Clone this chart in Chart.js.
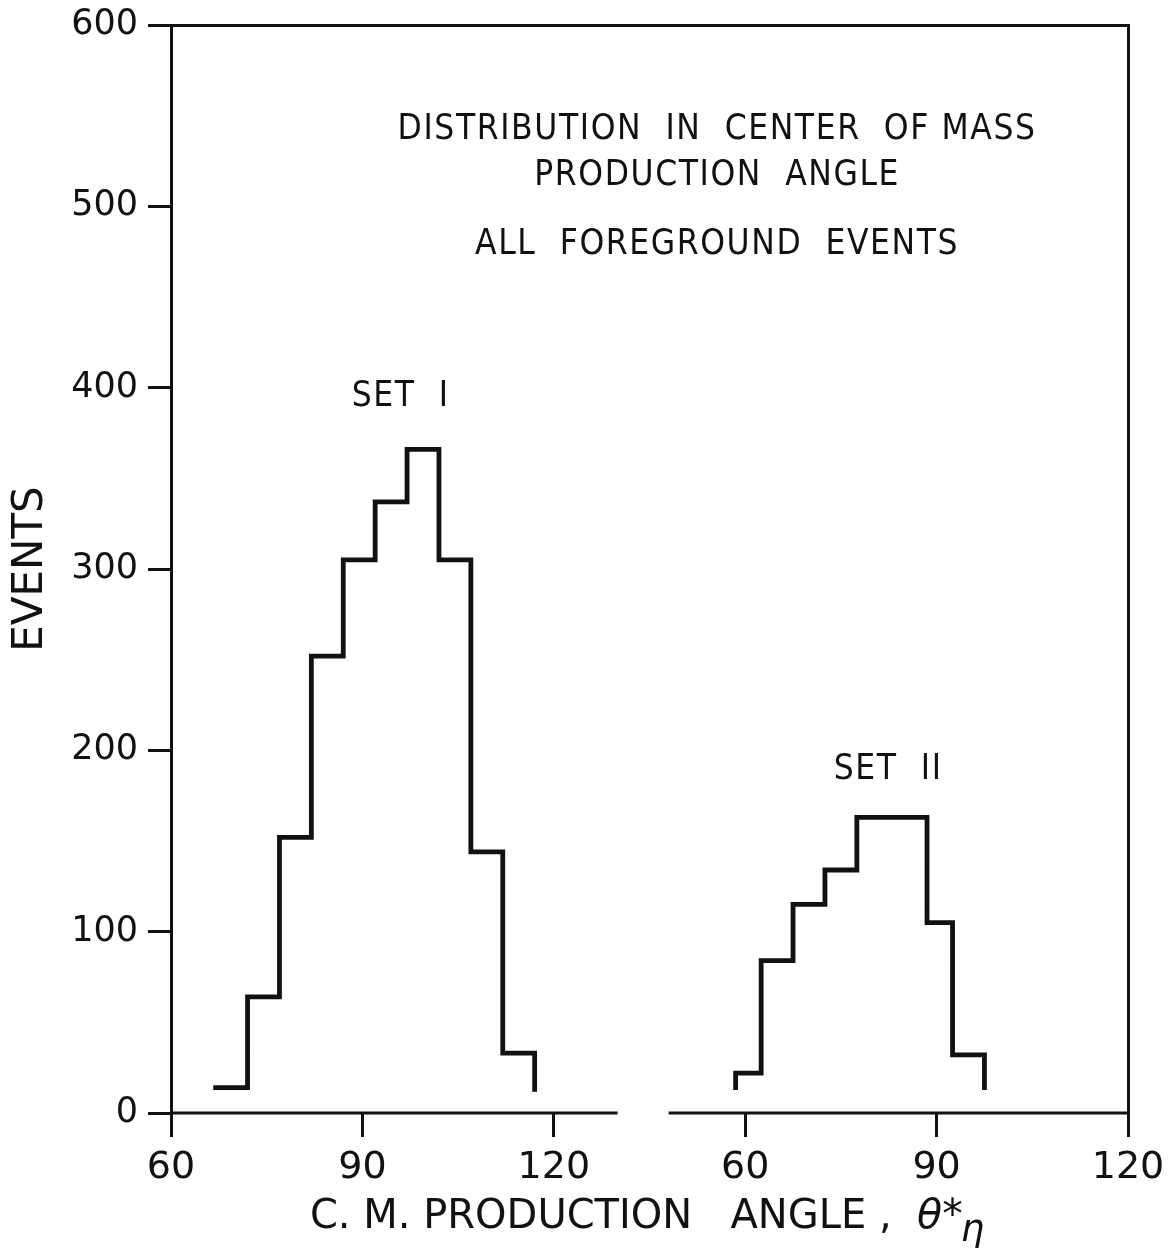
<!DOCTYPE html>
<html>
<head>
<meta charset="utf-8">
<title>Distribution in center of mass production angle</title>
<script src="https://cdn.jsdelivr.net/npm/chart.js@4/dist/chart.umd.min.js"></script>
<style>
  html, body { margin: 0; padding: 0; background: #fff; }
  #wrap { position: relative; width: 1168px; height: 1248px; }
</style>
</head>
<body>
<div id="wrap"><canvas id="chart" width="1168" height="1248"></canvas></div>
<script>
// ---- Histogram data: bin edges (degrees) and event counts per bin ----
const setOneEdges  = [67, 72, 77, 82, 87, 92, 97, 102, 107, 112, 117];
const setOneCounts = [14, 64, 152, 252, 305, 337, 366, 305, 144, 33];
const setOneEndLevel = 13;

const setTwoEdges  = [58.5, 62.5, 67.5, 72.5, 77.5, 88.5, 92.5, 97.5];
const setTwoCounts = [22, 84, 115, 134, 163, 105, 32];
const setTwoStartLevel = 14;
const setTwoEndLevel = 14;

// ---- Axis ticks ----
const angleTicks = [60, 90, 120];
const eventTicks = [0, 100, 200, 300, 400, 500, 600];

// ---- Text ----
const titleLines = ['DISTRIBUTION  IN  CENTER  OF MASS', 'PRODUCTION  ANGLE', 'ALL  FOREGROUND  EVENTS'];
const setLabels = ['SET  I', 'SET  II'];
const xTitleMain = 'C. M. PRODUCTION   ANGLE ,  ';
const xTitleSymbol = 'θ*';
const xTitleSub = 'η';
const yTitle = 'EVENTS';

// Both panels share one linear angle axis; the second panel is shifted by this many degrees.
const panelOffset = 90;
const leftPanelAxis = [60, 130];
const rightPanelAxis = [48, 120];

const ink = '#111';
const tickFont = '"DejaVu Sans", "Liberation Sans", sans-serif';
const letterFont = '"DejaVu Sans Condensed", "Liberation Sans Narrow", "DejaVu Sans", sans-serif';

function stepPoints(edges, counts, startLevel, endLevel, shift) {
  const pts = [];
  if (startLevel !== null) pts.push({ x: edges[0] + shift, y: startLevel });
  counts.forEach((c, i) => pts.push({ x: edges[i] + shift, y: c }));
  pts.push({ x: edges[edges.length - 1] + shift, y: endLevel });
  return pts;
}

function axisSegment(range, shift) {
  return [{ x: range[0] + shift, y: 0 }, { x: range[1] + shift, y: 0 }];
}

const lineStyle = (width) => ({
  borderColor: ink, borderWidth: width, pointRadius: 0, pointHoverRadius: 0,
  fill: false, tension: 0, clip: false, borderCapStyle: 'square', borderJoinStyle: 'miter'
});

// Keep the plot frame fixed: tick labels may overhang the frame edges.
const noOverhang = s => { s.paddingLeft = 0; s.paddingRight = 0; s.paddingTop = 0; s.paddingBottom = 0; };

// Titles, panel labels and axis titles
const figureText = {
  id: 'figureText',
  afterDraw(chart) {
    const { ctx, scales: { x, y } } = chart;
    ctx.save();
    ctx.fillStyle = ink;
    ctx.textBaseline = 'middle';
    ctx.textAlign = 'center';

    ctx.font = '35px ' + letterFont;
    ctx.letterSpacing = '1.6px';
    const titleX = x.getPixelForValue(145.6);
    const titleY = [542, 517, 478.5];
    titleLines.forEach((t, i) => ctx.fillText(t, titleX, y.getPixelForValue(titleY[i])));

    ctx.fillText(setLabels[0], x.getPixelForValue(96), y.getPixelForValue(395));
    ctx.fillText(setLabels[1], x.getPixelForValue(82.4 + panelOffset), y.getPixelForValue(189));
    ctx.letterSpacing = '0px';

    // y axis title
    ctx.save();
    ctx.font = '42px ' + tickFont;
    ctx.translate(31, 569);
    ctx.rotate(-Math.PI / 2);
    ctx.fillText(yTitle, 0, 0);
    ctx.restore();

    // x axis title with subscript
    ctx.textAlign = 'left';
    ctx.textBaseline = 'alphabetic';
    const mainFont = '40px ' + tickFont;
    const symFont = 'italic 41px ' + tickFont;
    const subFont = 'italic 37px ' + tickFont;
    ctx.font = mainFont; const w1 = ctx.measureText(xTitleMain).width;
    ctx.font = symFont; const w2 = ctx.measureText(xTitleSymbol).width;
    ctx.font = subFont; const w3 = ctx.measureText(xTitleSub).width;
    let px = 648 - (w1 + w2 + w3) / 2;
    const base = 1228;
    ctx.font = mainFont; ctx.fillText(xTitleMain, px, base); px += w1;
    ctx.font = symFont; ctx.fillText(xTitleSymbol, px, base); px += w2;
    ctx.font = subFont; ctx.fillText(xTitleSub, px - 2, base + 13);
    ctx.restore();
  }
};

new Chart(document.getElementById('chart'), {
  type: 'line',
  data: {
    datasets: [
      { label: 'Set I', data: stepPoints(setOneEdges, setOneCounts, null, setOneEndLevel, 0), stepped: 'before', ...lineStyle(4.8) },
      { label: 'Set II', data: stepPoints(setTwoEdges, setTwoCounts, setTwoStartLevel, setTwoEndLevel, panelOffset), stepped: 'before', ...lineStyle(4.8) },
      { label: 'axis-left', data: axisSegment(leftPanelAxis, 0), ...lineStyle(3), borderCapStyle: 'butt' },
      { label: 'axis-right', data: axisSegment(rightPanelAxis, panelOffset), ...lineStyle(3), borderCapStyle: 'butt' }
    ]
  },
  options: {
    responsive: false,
    animation: false,
    events: [],
    layout: { padding: { top: 25, left: 0, right: 0, bottom: 0 } },
    plugins: { legend: { display: false }, tooltip: { enabled: false }, title: { display: false } },
    scales: {
      x: {
        type: 'linear', position: 'bottom',
        min: angleTicks[0], max: angleTicks[angleTicks.length - 1] + panelOffset,
        afterBuildTicks: s => {
          s.ticks = angleTicks.map(v => ({ value: v })).concat(angleTicks.map(v => ({ value: v + panelOffset })));
        },
        ticks: {
          autoSkip: false, maxRotation: 0, padding: 8, color: ink,
          font: { family: tickFont, size: 38 },
          callback: v => String(v > leftPanelAxis[1] ? v - panelOffset : v)
        },
        grid: { drawOnChartArea: false, drawTicks: true, tickLength: 24, color: ink, lineWidth: 3 },
        border: { display: false },
        afterFit: s => { s.height = 135; noOverhang(s); }
      },
      y: {
        type: 'linear', position: 'left',
        min: eventTicks[0], max: eventTicks[eventTicks.length - 1],
        afterBuildTicks: s => { s.ticks = eventTicks.map(v => ({ value: v })); },
        ticks: { padding: 10, color: ink, font: { family: tickFont, size: 35 } },
        grid: { drawOnChartArea: false, drawTicks: true, tickLength: 23, color: ink, lineWidth: 3 },
        border: { display: true, color: ink, width: 3 },
        afterFit: s => { s.width = 171; noOverhang(s); }
      },
      xTop: {
        type: 'linear', position: 'top', min: 60, max: 210,
        ticks: { display: false },
        grid: { drawOnChartArea: false, drawTicks: false, color: ink, lineWidth: 3 },
        border: { display: true, color: ink, width: 3 },
        afterFit: s => { s.height = 0; noOverhang(s); }
      },
      yRight: {
        type: 'linear', position: 'right', min: 0, max: 600,
        ticks: { display: false },
        grid: { drawOnChartArea: false, drawTicks: false, color: ink, lineWidth: 3 },
        border: { display: true, color: ink, width: 3 },
        afterFit: s => { s.width = 40; noOverhang(s); }
      }
    }
  },
  plugins: [figureText]
});
</script>
</body>
</html>
